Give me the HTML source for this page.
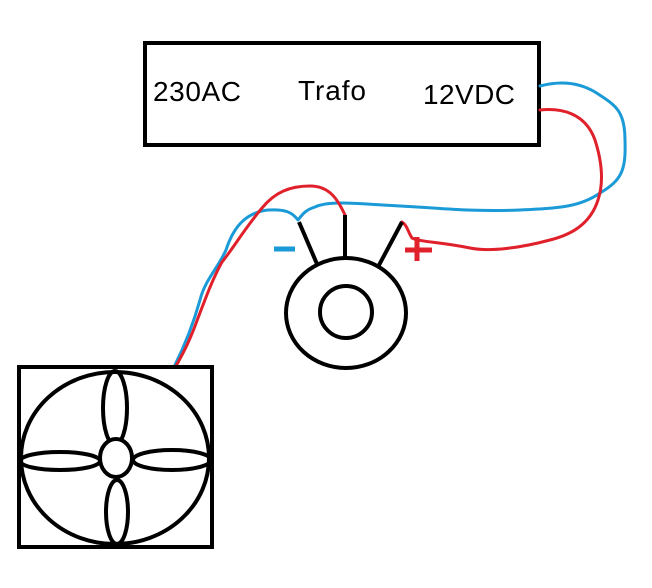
<!DOCTYPE html>
<html><head><style>body{margin:0;background:#fff}svg{display:block}</style></head><body>
<svg width="652" height="588" viewBox="0 0 652 588" xmlns="http://www.w3.org/2000/svg">
<rect x="145" y="43" width="394" height="102" fill="none" stroke="#000" stroke-width="4"/>
<g font-family="Liberation Sans, sans-serif" font-size="28" fill="#000">
<text x="153" y="101" textLength="88">230AC</text>
<text x="298" y="100" textLength="68">Trafo</text>
<text x="423" y="104" textLength="92">12VDC</text>
</g>
<g fill="none" stroke-width="3" stroke-linejoin="round" stroke-linecap="round">
<path stroke="#1a9ad6" d="M540 86 C555 82 575 80 595 92 C615 105 625 110 625 140 C626 170 622 180 600 193 C580 207 560 208 520 210 C470 212 440 208 400 206 C360 204 330 200 315 207 C305 210 302 215 298 220 C292 212 285 209 268 210 C250 212 235 222 226 250 C218 268 205 280 200 300 C193 325 185 345 174 367"/>
<path stroke="#e0202a" d="M540 110 C560 108 585 112 595 140 C603 165 603 185 598 200 C590 225 570 235 550 240 C520 248 490 252 470 248 C440 242 420 242 412 238 C408 232 407 225 402 222"/>
<path stroke="#e0202a" d="M345 215 C338 200 330 186 310 186 C290 186 275 192 262 208 C245 228 232 250 222 262 C212 280 205 300 198 318 C190 340 185 350 176 366"/>
</g>
<g stroke-width="4" stroke="#000" fill="none">
<line x1="299" y1="222" x2="317" y2="264"/>
<line x1="345" y1="215" x2="345" y2="258"/>
<line x1="402" y1="222" x2="378" y2="267"/>
<ellipse cx="346" cy="313" rx="60" ry="55"/>
<ellipse cx="346" cy="312" rx="26" ry="26"/>
<rect x="19" y="367" width="193" height="180"/>
<ellipse cx="115" cy="458" rx="94" ry="86"/>
<ellipse cx="115" cy="408" rx="12" ry="37"/>
<ellipse cx="117" cy="512" rx="11" ry="32"/>
<ellipse cx="60" cy="461" rx="40" ry="9"/>
<ellipse cx="172" cy="460" rx="39" ry="10"/>
<ellipse cx="116" cy="458" rx="16" ry="19" fill="#fff"/>
</g>
<line x1="274" y1="249" x2="295" y2="249" stroke="#1a9ad6" stroke-width="5"/>
<line x1="405" y1="250" x2="432" y2="250" stroke="#e0202a" stroke-width="5"/>
<line x1="417" y1="237" x2="417" y2="261" stroke="#e0202a" stroke-width="5"/>
</svg>
</body></html>
